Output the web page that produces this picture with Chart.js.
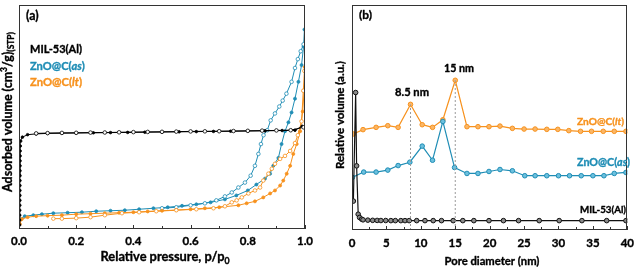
<!DOCTYPE html>
<html><head><meta charset="utf-8">
<script src="https://cdn.jsdelivr.net/npm/chart.js@4"></script>
<style>
html,body{margin:0;padding:0;background:#fff;width:640px;height:268px;overflow:hidden}
#wrap{position:relative;width:640px;height:268px}
canvas{position:absolute;top:0}
#c1{left:0}
#c2{left:320px}
</style></head><body>
<div id="wrap"><canvas id="c1" width="320" height="268"></canvas><canvas id="c2" width="320" height="268"></canvas></div>
<script>
// ---------- Panel (a): N2 isotherms (relative pressure vs adsorbed volume, arbitrary units) ----------
const pressureTicks = [0, 0.2, 0.4, 0.6, 0.8, 1.0];
const pressureMinor = [0.1, 0.3, 0.5, 0.7, 0.9];

const milAdsP = [0.002,0.0022,0.0024,0.0026,0.0028,0.003,0.0031,0.0032,0.0033,0.0034,0.0035,0.0036,0.0037,0.0038,0.0039,0.004,0.0045,0.006,0.012,0.03,0.06,0.1,0.15,0.2,0.26,0.32,0.38,0.44,0.5,0.56,0.62,0.68,0.74,0.8,0.86,0.92,0.965,0.99];
const milAdsV = [4,9,14,19,24,29,34,39,44,49,54,59,64,69,74,79,84,89,93,95.5,96.3,96.8,97,97.2,97.4,97.6,97.8,98,98.2,98.4,98.6,98.8,99,99.2,99.4,99.7,100,104];
const milDesP = [0.995,0.95,0.9,0.85,0.8,0.75,0.7,0.65,0.6,0.55,0.5,0.45,0.4,0.35,0.3,0.25,0.2,0.15,0.1,0.06];
const milDesV = [103,100,99.8,99.6,99.4,99.2,99,98.9,98.8,98.6,98.4,98.3,98.1,97.9,97.7,97.6,97.4,97.3,97.1,96.8];

const asAdsP = [0.003,0.02,0.05,0.08,0.12,0.17,0.22,0.27,0.32,0.37,0.42,0.47,0.52,0.57,0.62,0.67,0.72,0.76,0.8,0.83,0.86,0.878,0.889,0.907,0.918,0.93,0.942,0.953,0.965,0.977,0.988,0.995,0.998];
const asAdsV = [10,13,14,15,16,16.5,17,18,18.5,19,20,21,22,23.5,25,27,30,34,39,45,51,56,64,72,86,99,108,118,132,149,166,185,202];
const asDesP = [0.995,0.985,0.975,0.965,0.953,0.935,0.922,0.91,0.895,0.88,0.868,0.855,0.846,0.837,0.825,0.81,0.79,0.767,0.744,0.72,0.69,0.65,0.6,0.55,0.5];
const asDesV = [187,180,172,163,149,137,130,124,117,110,100,95,86,76,64,54,47,42,37,33,29,26,24,22,21];

const ltAdsP = [0.003,0.01,0.03,0.06,0.1,0.15,0.2,0.25,0.3,0.35,0.4,0.45,0.5,0.55,0.6,0.65,0.7,0.767,0.796,0.825,0.854,0.878,0.895,0.913,0.924,0.936,0.948,0.959,0.971,0.983,0.992,0.997,0.999];
const ltAdsV = [5,10,12,13,13.5,14,15,15.5,16,16.5,17,17.8,18.5,19.2,20,21,22,24,26,28,32,36,39,44,49,56,64,76,86,99,119,140,164];
const ltDesP = [0.998,0.994,0.988,0.975,0.965,0.948,0.93,0.913,0.895,0.884,0.872,0.854,0.843,0.825,0.802,0.779,0.761,0.744,0.72,0.68,0.62,0.55,0.48,0.42,0.36,0.3,0.25,0.2,0.15,0.12];
const ltDesV = [160,140,109,95,87,79,74,71,66,61,56,49,42,39,36,32,29,27,23,21,20,19,18,17,16,14,12,11,10.5,10.5];

// ---------- Panel (b): pore size distribution (pore diameter nm vs relative volume, a.u.) ----------
const poreTicks = [0, 5, 10, 15, 20, 25, 30, 35, 40];
const poreMinor = [2.5, 7.5, 12.5, 17.5, 22.5, 27.5, 32.5, 37.5];

const ltD = [0.2,1.6,3.5,5.2,6.7,8.5,10.2,11.7,13.2,15,16.7,18.3,19.9,21.5,23.3,25,26.6,28.3,29.9,31.5,33.2,34.8,36.5,38.1,39.8];
const ltVol = [97.3,101.7,104,105.7,104,127.3,106.7,104,111.7,151.7,104.7,104.7,104.7,105.3,103,102.3,102.3,102,102,100.7,100,100,100,100,100];
const asD = [0.05,1.7,3.5,5.2,6.7,8.4,10.2,11.7,13.2,14.9,16.7,18.3,19.9,21.5,23.3,25.1,26.6,28.3,30,31.6,33.3,35,36.6,38.1,39.8];
const asVol = [53.3,58.7,58.7,60.7,65.3,68.7,85,70.7,110,63.3,57.3,57.3,59.3,61.3,60,55,55,55,55,55,55,55,55,57.3,58.3];
const milD = [0.2,0.53,0.67,0.9,1.1,1.4,1.6,2.3,3.0,3.65,4.2,4.9,5.65,6.3,7.1,7.7,8.3,9.4,10.6,11.8,13,14.7,16.1,17.7,19.9,22,24.2,27.2,30.1,33.4,37,39.8];
const milVol = [29.3,139.3,65,16,12.7,11,10.3,10,9.8,9.7,9.6,9.6,9.5,9.5,9.5,9.5,9.5,9.5,9.5,9.5,9.5,9.5,9.5,9.5,9.5,9.5,9.5,9.5,9.5,9.5,9.5,9.5];
const peakD = [8.5, 15];
const peakLabels = ['8.5 nm', '15 nm'];

// ---------- helpers ----------
const BLUE = '#1f8db5', ORANGE = '#f7921e';
const FONT = 'Lato, "Open Sans", sans-serif';
const zip = (xs, ys) => xs.map((x, i) => ({x, y: ys[i]}));

function richText(ctx, segs, x, y, align, size0, color, fit) {
  const fontFor = (st, size) => ((st === 'i') ? 'italic bold ' : 'bold ') + ((st === 'sup' || st === 'sub') ? size * 0.68 : size).toFixed(2) + 'px ' + FONT;
  const measure = size => { let w = 0; segs.forEach(s => { ctx.font = fontFor(s[1], size); w += ctx.measureText(s[0]).width; }); return w; };
  let size = size0;
  if (fit) size = size0 * fit / measure(size0);
  const w = measure(size);
  let cx = align === 'center' ? x - w / 2 : (align === 'right' ? x - w : x);
  ctx.textBaseline = 'middle'; ctx.textAlign = 'left'; ctx.fillStyle = color;
  ctx.strokeStyle = color; ctx.lineWidth = 0.35; ctx.lineJoin = 'round';
  segs.forEach(s => {
    ctx.font = fontFor(s[1], size);
    const dy = s[1] === 'sup' ? -size * 0.33 : (s[1] === 'sub' ? size * 0.3 : 0);
    ctx.fillText(s[0], cx, y + dy);
    ctx.strokeText(s[0], cx, y + dy);
    cx += ctx.measureText(s[0]).width;
  });
}

const framePlugin = {
  id: 'frame',
  afterDraw(chart, args, opts) {
    const ctx = chart.ctx, a = chart.chartArea, xs = chart.scales.x;
    ctx.save();
    ctx.strokeStyle = '#333'; ctx.lineWidth = 1;
    ctx.strokeRect(Math.round(a.left) + 0.5, Math.round(a.top) + 0.5, Math.round(a.right - a.left) - 1, Math.round(a.bottom - a.top) - 1);
    const drawTick = (v, len) => {
      const px = Math.round(xs.getPixelForValue(v)) + 0.5;
      ctx.beginPath(); ctx.moveTo(px, a.bottom); ctx.lineTo(px, a.bottom - len); ctx.stroke();
    };
    opts.major.forEach(v => drawTick(v, 4));
    opts.minor.forEach(v => drawTick(v, 3));
    const off = opts.offset || 0;
    (opts.texts || []).forEach(t => {
      if (t.rot) {
        ctx.save(); ctx.translate(t.x - off, t.y); ctx.rotate(-Math.PI / 2);
        richText(ctx, t.segs, 0, 0, 'center', t.size, t.color || '#000', t.fit);
        ctx.restore();
      } else {
        richText(ctx, t.segs, t.x - off, t.y, t.align || 'left', t.size, t.color || '#000', t.fit);
      }
    });
    ctx.restore();
  }
};

function xAxis(min, max, ticks, fmt, height, pad) {
  return {
    type: 'linear', min, max,
    afterBuildTicks: s => { s.ticks = ticks.map(v => ({value: v})); },
    afterFit: s => { s.height = height; },
    ticks: {callback: fmt, font: {family: FONT, weight: 'bold', size: 11.5}, color: '#000', padding: pad, maxRotation: 0, autoSkip: false,
            textStrokeColor: '#000', textStrokeWidth: 0.35},
    grid: {display: false, drawTicks: false},
    border: {display: false}
  };
}

// ---------- chart (a) ----------
const isoDs = (lbl, xs, ys, color, open, r) => ({
  label: lbl, data: zip(xs, ys), borderColor: color, borderWidth: 1,
  pointRadius: r, pointBorderWidth: 0.8,
  pointBackgroundColor: open ? '#fff' : color, pointBorderColor: color,
  tension: 0, fill: false
});

new Chart(document.getElementById('c1'), {
  type: 'line',
  data: {datasets: [
    isoDs('MIL-53(Al) des', milDesP, milDesV, '#000', true, 1.8),
    isoDs('MIL-53(Al) ads', milAdsP, milAdsV, '#000', false, 1.3),
    isoDs('ZnO@C(lt) des', ltDesP, ltDesV, ORANGE, true, 1.8),
    isoDs('ZnO@C(lt) ads', ltAdsP, ltAdsV, ORANGE, false, 1.5),
    isoDs('ZnO@C(as) des', asDesP, asDesV, BLUE, true, 1.8),
    isoDs('ZnO@C(as) ads', asAdsP, asAdsV, BLUE, false, 1.5)
  ]},
  options: {
    responsive: false, animation: false, devicePixelRatio: 1,
    layout: {padding: {left: 19, right: 15, top: 2, bottom: 0}},
    plugins: {
      legend: {display: false}, tooltip: {enabled: false},
      frame: {
        major: pressureTicks, minor: pressureMinor, offset: 0,
        texts: [
          {segs: [['(a)', 'b']], x: 26, y: 16, size: 11, fit: 12.5},
          {segs: [['MIL-53(Al)', 'b']], x: 30, y: 49, size: 11, fit: 52},
          {segs: [['ZnO@C(', 'b'], ['as', 'i'], [')', 'b']], x: 30, y: 66, size: 11, color: BLUE, fit: 55},
          {segs: [['ZnO@C(', 'b'], ['lt', 'i'], [')', 'b']], x: 30, y: 82, size: 11, color: ORANGE, fit: 52},
          {segs: [['Adsorbed volume (cm', 'b'], ['3', 'sup'], ['/g)', 'b'], ['(STP)', 'sub']], x: 8, y: 112, size: 11, rot: true, fit: 160},
          {segs: [['Relative pressure, p/p', 'b'], ['0', 'sub']], x: 165, y: 257, size: 11.5, align: 'center', fit: 129}
        ]
      }
    },
    scales: {
      x: xAxis(0, 1, pressureTicks, v => v.toFixed(1), 39, 5),
      y: {type: 'linear', display: false, min: 0, max: 227}
    }
  },
  plugins: [framePlugin]
});

// ---------- chart (b) ----------
const psdDs = (lbl, xs, ys, color, fillc) => ({
  label: lbl, data: zip(xs, ys), borderColor: color, borderWidth: 1.2,
  pointRadius: 2.3, pointBorderWidth: 1,
  pointBackgroundColor: fillc, pointBorderColor: color,
  tension: 0, fill: false
});
const peakLine = (d, top) => ({
  label: 'peak ' + d, data: [{x: d, y: 0}, {x: d, y: top}],
  borderColor: '#9a9a9a', borderWidth: 1, borderDash: [2, 2], pointRadius: 0, tension: 0, fill: false
});
const peakTops = peakD.map(d => ltVol[ltD.indexOf(d)]);

new Chart(document.getElementById('c2'), {
  type: 'line',
  data: {datasets: [
    peakLine(peakD[0], peakTops[0]),
    peakLine(peakD[1], peakTops[1]),
    psdDs('MIL-53(Al)', milD, milVol, '#111', '#8a8a8a'),
    psdDs('ZnO@C(as)', asD, asVol, BLUE, '#6cc0de'),
    psdDs('ZnO@C(lt)', ltD, ltVol, ORANGE, '#fbb666')
  ]},
  options: {
    responsive: false, animation: false, devicePixelRatio: 1,
    layout: {padding: {left: 32, right: 7, top: 2, bottom: 0}},
    plugins: {
      legend: {display: false}, tooltip: {enabled: false},
      frame: {
        major: poreTicks, minor: poreMinor, offset: 320,
        texts: [
          {segs: [['(b)', 'b']], x: 359, y: 15, size: 11, fit: 13},
          {segs: [[peakLabels[0], 'b']], x: 412, y: 92, size: 11, align: 'center', fit: 34},
          {segs: [[peakLabels[1], 'b']], x: 459, y: 69, size: 11, align: 'center', fit: 30},
          {segs: [['ZnO@C(', 'b'], ['lt', 'i'], [')', 'b']], x: 624, y: 122, size: 10.5, align: 'right', color: ORANGE, fit: 47},
          {segs: [['ZnO@C(', 'b'], ['as', 'i'], [')', 'b']], x: 630, y: 163, size: 10.5, align: 'right', color: BLUE, fit: 53},
          {segs: [['MIL-53(Al)', 'b']], x: 626, y: 210, size: 10.5, align: 'right', fit: 46},
          {segs: [['Relative volume (a.u.)', 'b']], x: 340, y: 115, size: 11, rot: true, fit: 108},
          {segs: [['Pore diameter (nm)', 'b']], x: 492, y: 261, size: 11.5, align: 'center', fit: 95}
        ]
      }
    },
    scales: {
      x: xAxis(0, 40, poreTicks, v => String(v), 38, 6),
      y: {type: 'linear', display: false, min: 0, max: 228}
    }
  },
  plugins: [framePlugin]
});
</script>
</body></html>
